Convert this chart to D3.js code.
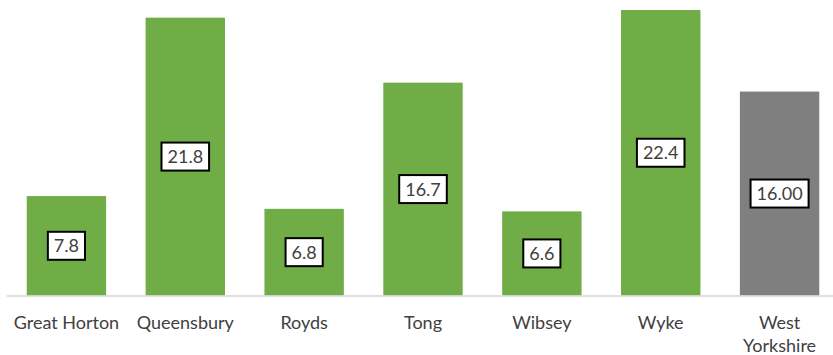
<!DOCTYPE html>
<html>
<head>
<meta charset="utf-8">
<script src="https://cdn.jsdelivr.net/npm/d3@7/dist/d3.min.js"></script>
<style>
  html, body { margin: 0; padding: 0; background: #fff; }
  svg { display: block; }
  text { font-family: Lato, "Open Sans", sans-serif; }
</style>
</head>
<body>
<svg id="chart" width="833" height="355"></svg>
<script>
// Ward values and the West Yorkshire comparison
const categories = ["Great Horton", "Queensbury", "Royds", "Tong", "Wibsey", "Wyke", "West Yorkshire"];
const values = [7.8, 21.8, 6.8, 16.7, 6.6, 22.4, 16.00];
const valueLabels = ["7.8", "21.8", "6.8", "16.7", "6.6", "22.4", "16.00"];
const tickLines = [["Great Horton"], ["Queensbury"], ["Royds"], ["Tong"], ["Wibsey"], ["Wyke"], ["West", "Yorkshire"]];

const W = 833, H = 355;
const baseY = 295.5;

const svg = d3.select("#chart");

const x = d3.scaleBand()
  .domain(categories)
  .range([7, 839])
  .paddingInner(0.332)
  .paddingOuter(0.166);

const y = d3.scaleLinear()
  .domain([0, 22.4])
  .range([baseY, 10]);

const colorFor = (c) => c === "West Yorkshire" ? "#7f7f7f" : "#70ad47";

// Bars
svg.append("g").selectAll("rect")
  .data(categories)
  .join("rect")
  .attr("x", d => x(d))
  .attr("y", (d, i) => y(values[i]))
  .attr("width", x.bandwidth())
  .attr("height", (d, i) => y(0) - y(values[i]))
  .attr("fill", colorFor);

// Category axis
const xAxis = d3.axisBottom(x).tickSize(0).tickFormat("");
const axisG = svg.append("g")
  .attr("transform", `translate(0,${baseY + 0.5})`)
  .call(xAxis);
axisG.select(".domain")
  .attr("d", `M7,0H${W}`)
  .attr("stroke", "#d4d4d4")
  .attr("stroke-width", 1.5);

// Tick labels, wrapped over lines where needed
axisG.selectAll(".tick").each(function(d, i) {
  const t = d3.select(this).append("text")
    .attr("fill", "#404040")
    .attr("font-size", 18)
    .attr("text-anchor", "middle");
  tickLines[i].forEach((line, j) => {
    t.append("tspan")
      .attr("x", 0)
      .attr("y", 32.5 + j * 23)
      .text(line);
  });
});

// Value labels in boxes, centred on each bar
const labelG = svg.append("g").selectAll("g")
  .data(categories)
  .join("g")
  .attr("transform", (d, i) => `translate(${x(d) + x.bandwidth() / 2},${(y(values[i]) + y(0)) / 2})`);

labelG.each(function(d, i) {
  const g = d3.select(this);
  const rect = g.append("rect");
  const txt = g.append("text")
    .attr("text-anchor", "middle")
    .attr("dy", "0.36em")
    .attr("font-size", 18)
    .attr("fill", "#404040")
    .text(valueLabels[i]);
  const bb = txt.node().getBBox();
  const padX = 6, h = 28;
  rect.attr("x", bb.x - padX)
    .attr("y", -h / 2)
    .attr("width", bb.width + padX * 2)
    .attr("height", h)
    .attr("fill", "#fff")
    .attr("stroke", "#000")
    .attr("stroke-width", 2);
});
</script>
</body>
</html>
